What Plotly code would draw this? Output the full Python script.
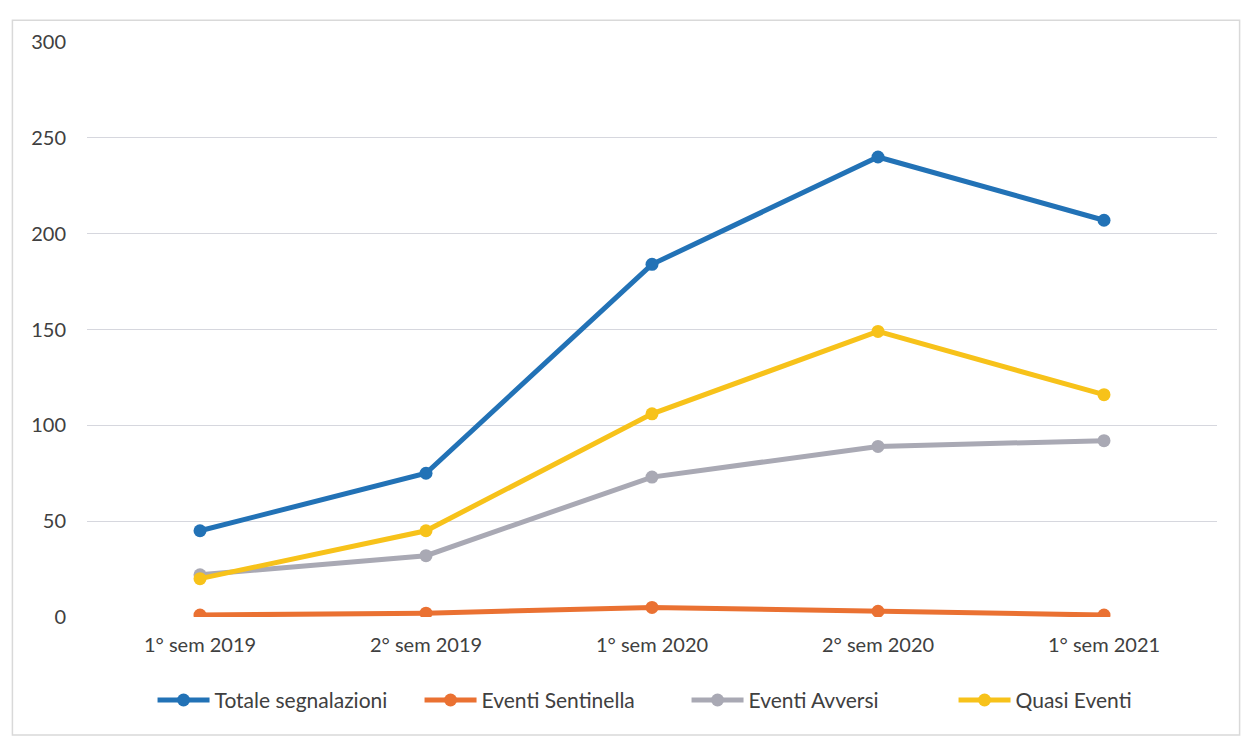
import plotly.graph_objects as go

categories = ["1° sem 2019", "2° sem 2019", "1° sem 2020", "2° sem 2020", "1° sem 2021"]
totale = [45, 75, 184, 240, 207]
sentinella = [1, 2, 5, 3, 1]
avversi = [22, 32, 73, 89, 92]
quasi = [20, 45, 106, 149, 116]
y_ticks = [0, 50, 100, 150, 200, 250, 300]

series = [
    ("Totale segnalazioni", totale, "#2272B6"),
    ("Eventi Sentinella", sentinella, "#EA7132"),
    ("Eventi Avversi", avversi, "#A9A9B4"),
    ("Quasi Eventi", quasi, "#F7C21A"),
]

fig = go.Figure()
for name, vals, col in series:
    fig.add_trace(go.Scatter(
        x=categories, y=vals, name=name, mode="lines+markers",
        line=dict(color=col, width=5),
        marker=dict(color=col, size=13),
    ))

font_fam = "Lato, 'Open Sans', sans-serif"
fig.update_layout(
    width=1246, height=737,
    margin=dict(l=87, r=29, t=42, b=120, autoexpand=False),
    paper_bgcolor="white", plot_bgcolor="white",
    font=dict(family=font_fam, size=20, color="#404040"),
    showlegend=True,
    legend=dict(orientation="h", x=0.058, xanchor="left", y=-0.145, yanchor="middle",
                font=dict(size=21, color="#404040"), itemwidth=52,
                entrywidth=200, entrywidthmode="pixels", traceorder="normal",
                bgcolor="rgba(0,0,0,0)"),
    xaxis=dict(type="category", range=[-0.5, 4.5], showgrid=False, showline=False, ticks="",
               ticklabelstandoff=14, tickfont=dict(size=20, color="#404040")),
    yaxis=dict(range=[0, 300], tickvals=y_ticks, showgrid=True, gridcolor="#D6D7DE",
               gridwidth=1.2, zeroline=False, showline=False, ticks="",
               ticklabelstandoff=20, tickfont=dict(size=20, color="#404040")),
    shapes=[dict(type="rect", xref="paper", yref="paper", x0=-0.066, x1=1.02,
                 y0=-0.205, y1=1.038, line=dict(color="#D9D9D9", width=1.5),
                 fillcolor="rgba(0,0,0,0)", layer="below")],
)

fig.write_html("out.html")
